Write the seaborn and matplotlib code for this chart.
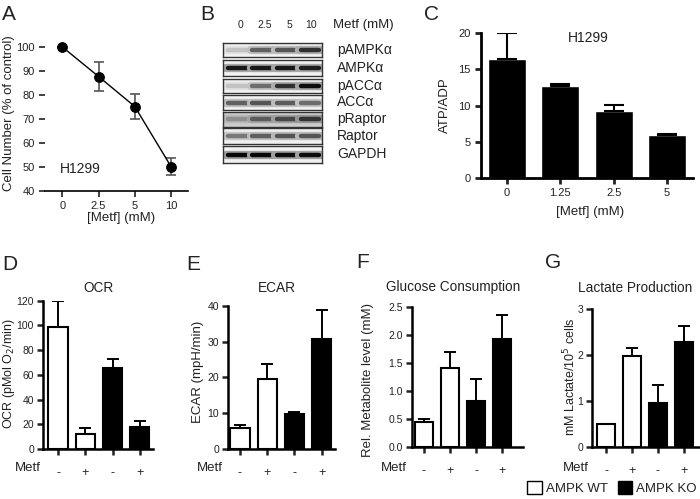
import matplotlib
matplotlib.use("Agg")
import matplotlib.pyplot as plt
from matplotlib.patches import Patch
import seaborn as sns
import pandas as pd

# panel A - cell number
a_doses = ["0", "2.5", "5", "10"]
a_values = [100, 87.7, 75.2, 50.2]
a_errors = [0, 6.0, 5.4, 3.7]

# panel B - western blot band intensities (0 = none, 1 = strong)
b_lanes = ["0", "2.5", "5", "10"]
b_proteins = ["pAMPKα", "AMPKα", "pACCα", "ACCα", "pRaptor", "Raptor", "GAPDH"]
b_bands = [
    [0.2, 0.6, 0.65, 0.8],
    [0.9, 0.9, 0.9, 0.88],
    [0.2, 0.55, 0.8, 0.95],
    [0.6, 0.65, 0.62, 0.55],
    [0.3, 0.55, 0.65, 0.75],
    [0.5, 0.6, 0.65, 0.65],
    [0.97, 0.97, 0.95, 0.95],
]
b_background = [0.95, 0.95, 0.95, 0.95, 0.8, 0.94, 0.95]

# panel C - ATP/ADP
c_doses = ["0", "1.25", "2.5", "5"]
c_values = [16.4, 12.7, 9.2, 6.0]
c_errors = [3.6, 0.2, 0.9, 0.05]

# panels D-G - AMPK WT / KO, -/+ metformin
groups = ["WT -", "WT +", "KO -", "KO +"]
genotype = ["AMPK WT", "AMPK WT", "AMPK KO", "AMPK KO"]
metf_signs = ["-", "+", "-", "+"]
ocr = [98.5, 11.9, 65.8, 18.0]
ocr_err = [21.5, 4.8, 7.2, 5.0]
ecar = [5.9, 19.5, 9.8, 30.7]
ecar_err = [0.8, 4.2, 0.5, 8.0]
glucose = [0.455, 1.41, 0.83, 1.92]
glucose_err = [0.045, 0.28, 0.39, 0.43]
lactate = [0.49, 1.98, 0.95, 2.29]
lactate_err = [0.01, 0.18, 0.39, 0.34]

sns.set_style("ticks")
plt.rcParams["font.family"] = ["Liberation Sans", "DejaVu Sans"]
plt.rcParams["text.color"] = "#222222"
plt.rcParams["axes.labelcolor"] = "#222222"
plt.rcParams["xtick.color"] = "#222222"
plt.rcParams["ytick.color"] = "#222222"

W, H = 700, 499
fig = plt.figure(figsize=(7, 4.99), dpi=100)


def box(l, t, r, b):
    return [l / W, 1 - b / H, (r - l) / W, (b - t) / H]


def ftext(x, y, s, **kw):
    fig.text(x / W, 1 - y / H, s, **kw)


def style_axis(ax, lw=1.6):
    sns.despine(ax=ax)
    for sp in ["left", "bottom"]:
        ax.spines[sp].set_linewidth(lw)
        ax.spines[sp].set_color("black")
    ax.tick_params(width=lw, length=4, labelsize=8, colors="#222222")


# ---- A
ax = fig.add_axes(box(45, 47, 188, 191))
pos = list(range(len(a_doses)))
sns.lineplot(x=pos, y=a_values, color="black", lw=1.0, marker="o",
             markersize=7, markeredgecolor="black", ax=ax, zorder=3)
ax.errorbar(pos, a_values, yerr=a_errors, fmt="none", ecolor="#555555",
            elinewidth=1.2, capsize=3.5, capthick=1.2, zorder=2)
ax.set_xlim(-0.48, 3.47)
ax.set_ylim(40, 100)
ax.set_yticks(range(40, 101, 10))
ax.set_xticks(pos)
ax.set_xticklabels(a_doses)
for ln in ax.lines:
    ln.set_clip_on(False)
style_axis(ax, lw=1.2)
ax.spines["left"].set_visible(False)
ftext(60, 169, "H1299", fontsize=10, va="center")
ftext(9, 113, "Cell Number (% of control)", rotation=90, fontsize=9.5,
      ha="center", va="center")
ftext(121, 218, "[Metf] (mM)", fontsize=9.5, ha="center", va="center")

# ---- B  (blot)
rows = [(43, 57), (60, 76), (79, 93), (95, 110), (112, 127), (128, 144), (146, 163)]
for (t, b), name, bands, bg in zip(rows, b_proteins, b_bands, b_background):
    bx = fig.add_axes(box(223, t, 322, b))
    bx.set_facecolor(str(bg))
    lane_x = list(range(len(b_lanes)))
    for x, v in zip(lane_x, bands):
        g = bg * (1 - v)
        halo = bg - (bg - g) * 0.35
        bx.hlines(0.5, x - 0.46, x + 0.46, color=str(halo), lw=6,
                  capstyle="round")
        bx.hlines(0.5, x - 0.38, x + 0.38, color=str(g), lw=3.2,
                  capstyle="round")
    bx.set_xlim(-0.6, 3.5)
    bx.set_ylim(0, 1)
    bx.set_xticks([])
    bx.set_yticks([])
    for sp in bx.spines.values():
        sp.set_linewidth(1.0)
        sp.set_color("#333333")
    ftext(337, (t + b) / 2, name, fontsize=10, va="center")
for lx, lab in zip([240, 265, 289, 311], b_lanes):
    ftext(lx, 25, lab, fontsize=7.5, ha="center", va="center")
ftext(333, 25, "Metf (mM)", fontsize=9.5, va="center")

# ---- C
ax = fig.add_axes(box(481, 33, 693, 178))
sns.barplot(x=c_doses, y=c_values, color="black", width=0.71,
            saturation=1, ax=ax)
ax.errorbar(range(4), c_values, yerr=[[0] * 4, c_errors], fmt="none",
            ecolor="black", elinewidth=1.5, capsize=7, capthick=1.5)
ax.set_xlim(-0.49, 3.49)
ax.set_ylim(0, 20)
ax.set_yticks(range(0, 21, 5))
style_axis(ax, lw=2)
ax.set_xlabel("")
ftext(588, 38, "H1299", fontsize=10, ha="center", va="center")
ftext(445, 105, "ATP/ADP", rotation=90, fontsize=9.5, ha="center", va="center")
ftext(590, 212, "[Metf] (mM)", fontsize=9.5, ha="center", va="center")

# ---- D-G
panels = [
    (box(43, 300.7, 153, 449), ocr, ocr_err, (0, 120), range(0, 121, 20),
     None, "OCR", (98, 288), "OCR (pMol O$_2$/min)", (9, 374), (-0.55, 3.48), 15),
    (box(228, 305.7, 335, 449), ecar, ecar_err, (0, 40), range(0, 41, 10),
     None, "ECAR", (277, 288), "ECAR (mpH/min)", (198, 372), (-0.44, 3.49), 197),
    (box(412, 306.7, 523, 447.3), glucose, glucose_err, (0, 2.5),
     [0, 0.5, 1.0, 1.5, 2.0, 2.5], "%.1f", "Glucose Consumption", (453, 287),
     "Rel. Metabolite level (mM)", (368, 380), (-0.46, 3.8), 381),
    (box(592, 309.3, 699, 446.7), lactate, lactate_err, (0, 3), range(0, 4),
     None, "Lactate Production", (635, 288), "mM Lactate/10$^5$ cells",
     (570, 377), (-0.54, 3.58), 563),
]
for rect, vals, errs, ylim, yt, fmt, title, tpos, ylab, ypos, xlim, metf_x in panels:
    ax = fig.add_axes(rect)
    df = pd.DataFrame({"group": groups, "value": vals, "genotype": genotype})
    sns.barplot(data=df, x="group", y="value", hue="genotype",
                palette={"AMPK WT": "white", "AMPK KO": "black"},
                edgecolor="black", linewidth=1.5, width=0.7, dodge=False,
                saturation=1, legend=False, ax=ax)
    ax.errorbar(range(4), vals, yerr=[[0] * 4, errs], fmt="none",
                ecolor="black", elinewidth=1.4, capsize=4.5, capthick=1.4,
                zorder=0)
    ax.set_xlim(*xlim)
    ax.set_ylim(*ylim)
    ax.set_yticks(list(yt))
    if fmt:
        ax.set_yticklabels([fmt % v for v in yt])
    ax.set_xticks(range(4))
    ax.set_xticklabels(metf_signs)
    ax.set_xlabel("")
    ax.set_ylabel("")
    style_axis(ax, lw=1.8)
    ax.tick_params(axis="x", pad=9, labelsize=9)
    ax.tick_params(axis="y", labelsize=7.5, pad=2.5)
    ftext(tpos[0], tpos[1], title, fontsize=9.8, ha="center", va="center")
    ftext(ypos[0], ypos[1], ylab, rotation=90,
          fontsize=9.0 if "$" in ylab else 9.5,
          ha="center", va="center")
    ftext(metf_x, 468, "Metf", fontsize=9.5, va="center")

# panel letters
for lx, ly, s in [(2, 15, "A"), (200, 15, "B"), (424, 15, "C"),
                  (2, 264, "D"), (186, 264, "E"), (356, 263, "F"), (545, 262, "G")]:
    ftext(lx, ly, s, fontsize=15, va="center")

fig.legend(handles=[Patch(facecolor="white", edgecolor="black", lw=1),
                    Patch(facecolor="black", edgecolor="black", lw=1)],
           labels=["AMPK WT", "AMPK KO"], ncol=2, frameon=False,
           fontsize=9.5, loc="center", bbox_to_anchor=(612 / W, 1 - 488 / H),
           handlelength=1.1, handleheight=1.1, handletextpad=0.3,
           columnspacing=0.8)

fig.savefig("out.png", dpi=100)
